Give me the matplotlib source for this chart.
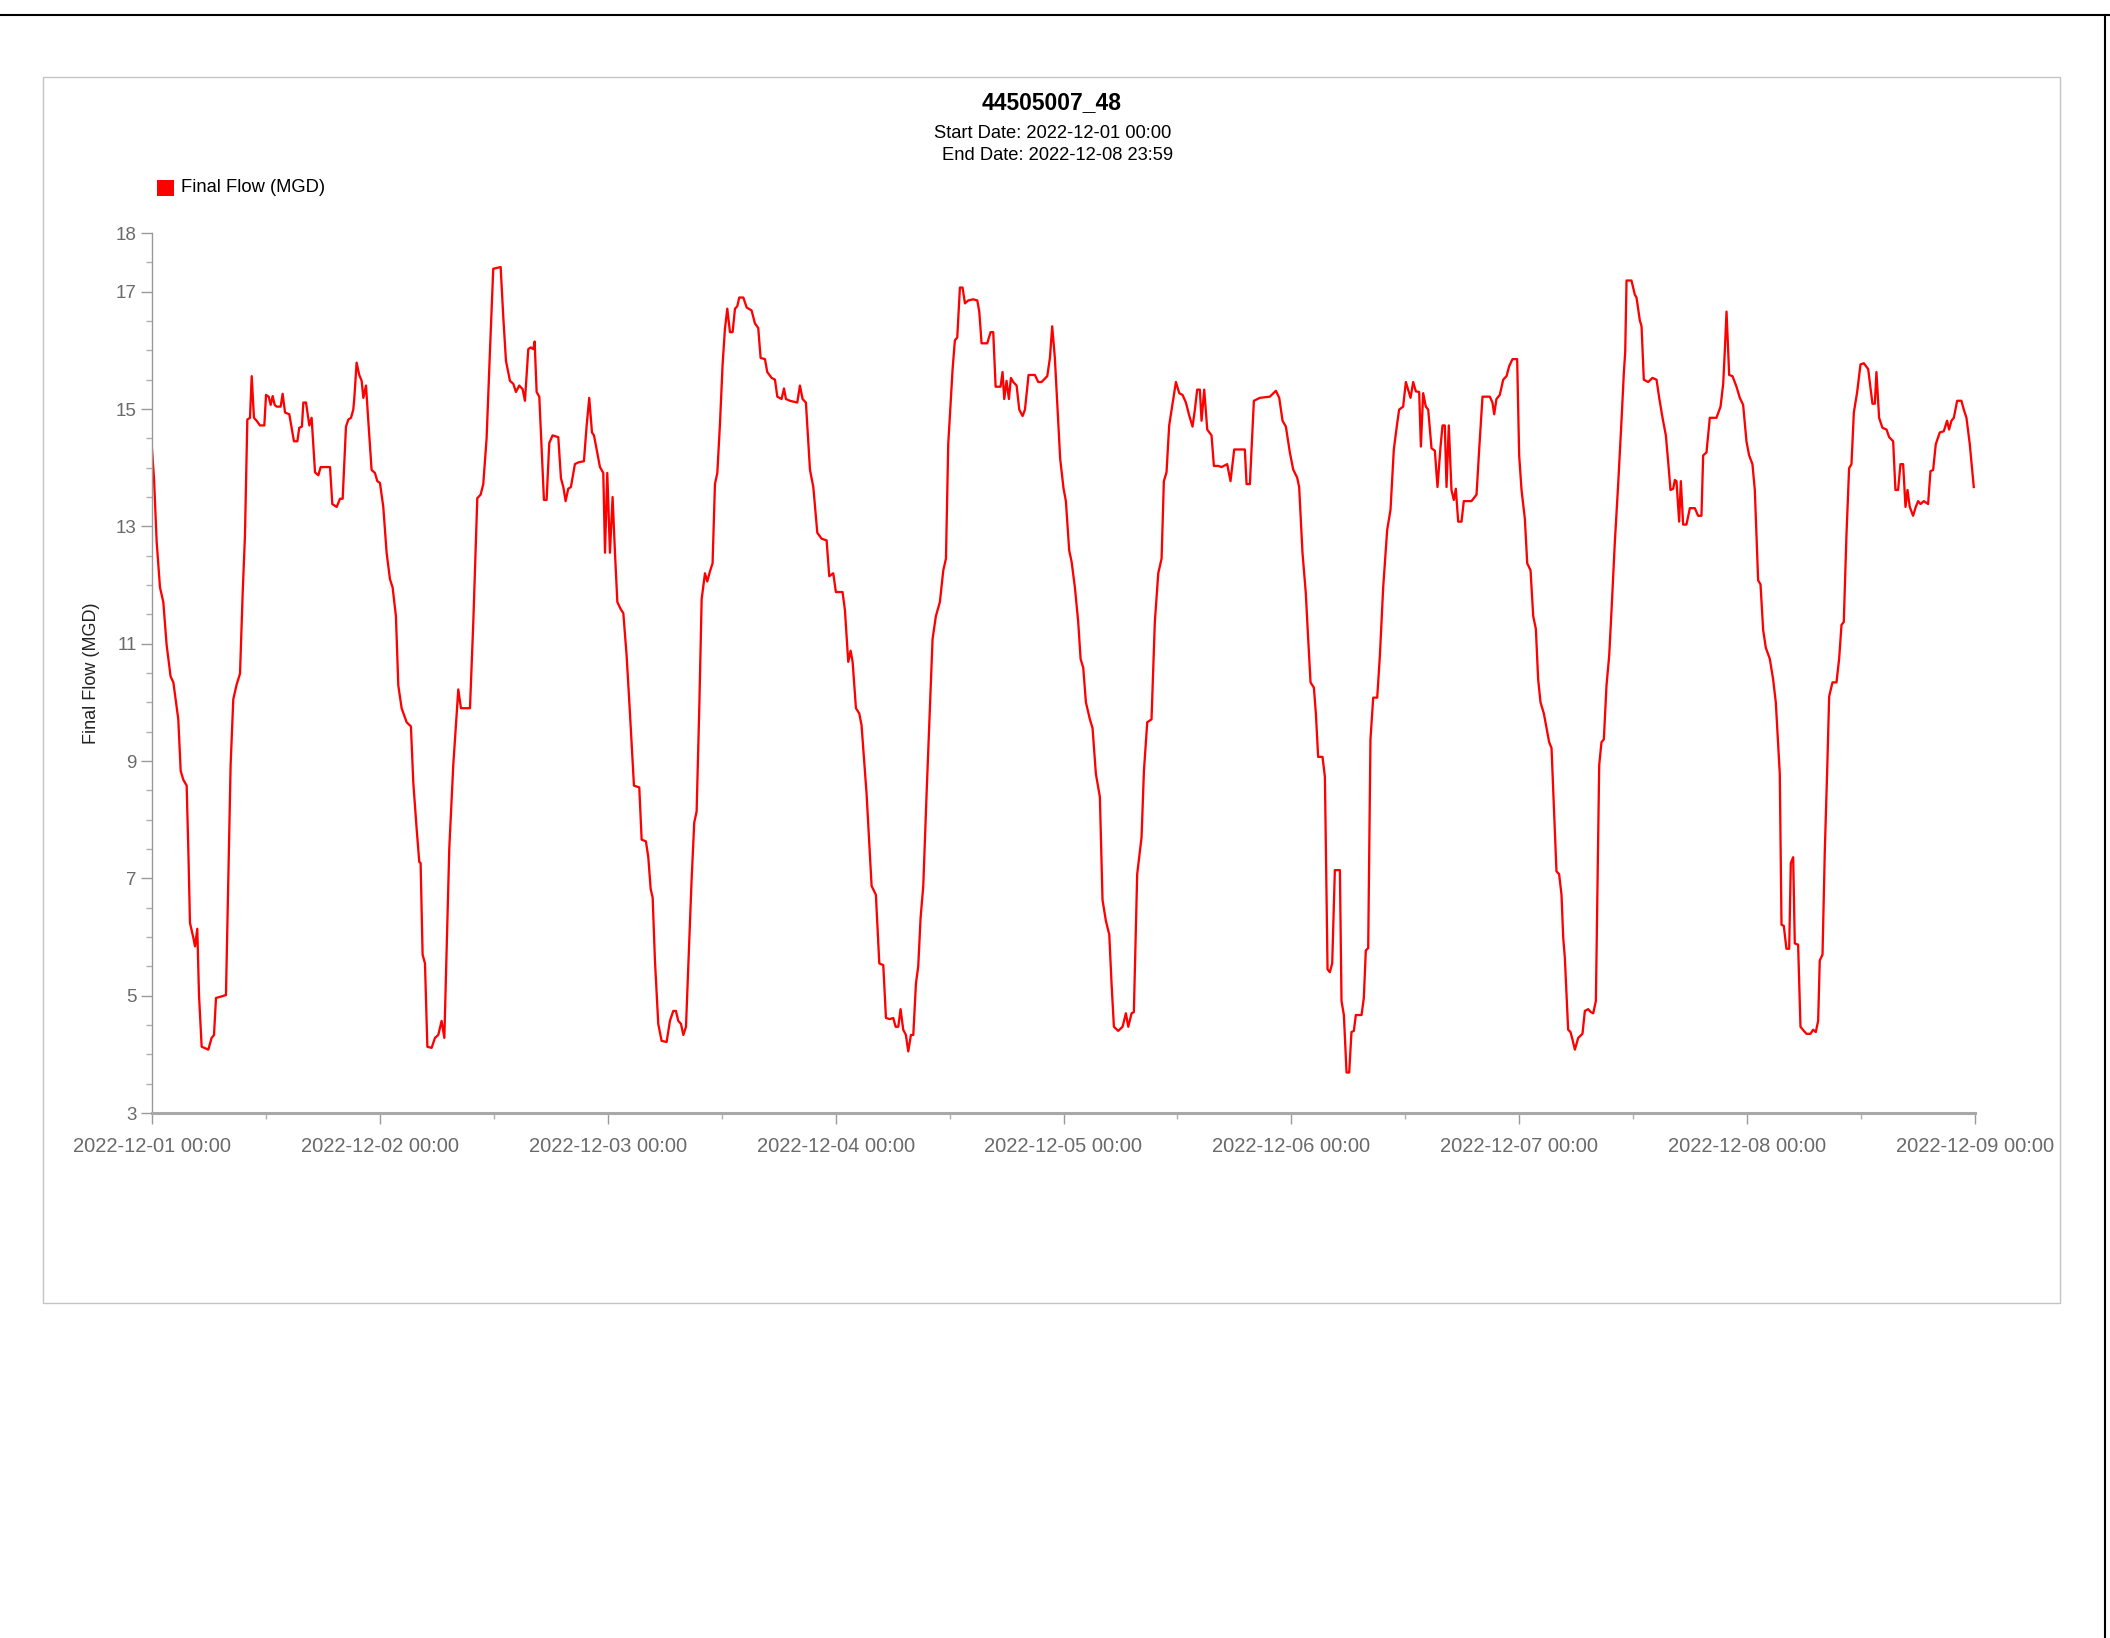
import numpy as np
import pandas as pd
import matplotlib
matplotlib.use("Agg")
import matplotlib.pyplot as plt
import matplotlib.dates as mdates
from matplotlib.lines import Line2D
from matplotlib.patches import Rectangle
from matplotlib.ticker import FixedLocator, MultipleLocator

plt.rcParams['font.family'] = ['Liberation Sans', 'DejaVu Sans']

TITLE = "44505007_48"
START_LABEL = "Start Date: 2022-12-01 00:00"
END_LABEL = "End Date: 2022-12-08 23:59"
SERIES_NAME = "Final Flow (MGD)"
START = pd.Timestamp("2022-12-01 00:00")
X_END = pd.Timestamp("2022-12-09 00:00")
Y_TICKS = [3, 5, 7, 9, 11, 13, 15, 17, 18]

# (hours since start, flow in MGD), one list per day
dec01 = [(0.00, 14.31), (0.21, 13.82), (0.49, 12.74), (0.84, 11.96), (1.19, 11.71), (1.54, 10.98),
         (1.96, 10.44), (2.25, 10.34), (2.77, 9.71), (3.02, 8.83), (3.30, 8.68), (3.65, 8.58),
         (3.83, 7.46), (4.00, 6.24), (4.35, 5.99), (4.53, 5.84), (4.77, 6.14), (4.95, 5.01),
         (5.23, 4.13), (5.93, 4.08), (6.28, 4.28), (6.53, 4.33), (6.74, 4.96), (7.79, 5.01),
         (8.04, 6.97), (8.28, 8.93), (8.56, 10.05), (8.91, 10.30), (9.27, 10.49), (9.55, 11.86),
         (9.79, 12.84), (10.04, 14.82), (10.32, 14.85), (10.50, 15.56), (10.74, 14.85), (11.02, 14.80),
         (11.37, 14.72), (11.83, 14.72), (12.01, 15.24), (12.29, 15.21), (12.50, 15.07), (12.71, 15.22),
         (12.92, 15.07), (13.13, 15.04), (13.55, 15.04), (13.76, 15.26), (14.01, 14.94), (14.46, 14.91),
         (14.95, 14.45), (15.31, 14.45), (15.51, 14.68), (15.79, 14.70), (15.94, 15.11), (16.22, 15.11),
         (16.57, 14.72), (16.81, 14.85), (17.17, 13.92), (17.52, 13.87), (17.76, 14.01), (18.75, 14.01),
         (18.99, 13.38), (19.45, 13.33), (19.80, 13.47), (20.08, 13.47), (20.43, 14.70), (20.68, 14.82),
         (20.96, 14.85), (21.20, 14.99), (21.31, 15.19), (21.55, 15.79), (21.83, 15.58), (22.08, 15.48),
         (22.26, 15.19), (22.54, 15.40), (22.78, 14.80), (23.13, 13.96), (23.48, 13.91), (23.73, 13.77)]

dec02 = [(24.01, 13.74), (24.36, 13.33), (24.71, 12.55), (25.06, 12.10), (25.34, 11.96), (25.69, 11.47),
         (25.94, 10.29), (26.29, 9.90), (26.82, 9.66), (27.27, 9.59), (27.52, 8.63), (27.87, 7.85),
         (28.15, 7.28), (28.29, 7.26), (28.50, 5.70), (28.75, 5.55), (29.00, 4.13), (29.45, 4.11),
         (29.80, 4.28), (30.15, 4.33), (30.50, 4.57), (30.79, 4.28), (31.31, 7.51), (31.73, 8.93),
         (32.26, 10.22), (32.54, 9.90), (33.49, 9.90), (33.84, 11.37), (34.26, 13.48), (34.61, 13.54),
         (34.89, 13.72), (35.24, 14.50), (35.59, 15.97), (35.94, 17.39), (36.72, 17.42), (37.00, 16.56),
         (37.28, 15.82), (37.70, 15.48), (38.05, 15.43), (38.33, 15.29), (38.68, 15.40), (39.03, 15.34),
         (39.28, 15.14), (39.63, 16.02), (39.88, 16.05), (40.16, 16.02), (40.30, 16.15), (40.51, 15.29),
         (40.79, 15.21), (41.28, 13.45), (41.56, 13.45), (41.84, 14.42), (42.19, 14.55), (42.79, 14.52),
         (43.07, 13.82), (43.32, 13.67), (43.56, 13.43), (43.84, 13.64), (44.12, 13.67), (44.54, 14.06),
         (44.90, 14.09), (45.49, 14.11), (45.77, 14.70), (46.05, 15.19), (46.34, 14.60), (46.55, 14.55),
         (46.83, 14.31)]

dec03 = [(47.18, 14.01), (47.53, 13.91), (47.71, 12.55), (47.95, 13.91), (48.23, 12.55), (48.51, 13.50),
         (48.76, 12.55), (49.01, 11.71), (49.36, 11.59), (49.64, 11.52), (49.99, 10.79), (50.34, 9.81),
         (50.76, 8.58), (51.32, 8.55), (51.57, 7.66), (52.02, 7.63), (52.27, 7.36), (52.52, 6.82),
         (52.73, 6.67), (52.97, 5.60), (53.32, 4.52), (53.67, 4.23), (54.20, 4.21), (54.55, 4.57),
         (54.90, 4.74), (55.18, 4.74), (55.43, 4.57), (55.71, 4.52), (55.96, 4.33), (56.24, 4.47),
         (56.48, 5.50), (56.83, 6.97), (57.11, 7.95), (57.36, 8.14), (57.64, 9.90), (57.89, 11.76),
         (58.24, 12.20), (58.48, 12.06), (58.76, 12.23), (59.04, 12.37), (59.29, 13.72), (59.54, 13.91),
         (59.82, 14.75), (60.10, 15.77), (60.34, 16.36), (60.59, 16.71), (60.87, 16.31), (61.15, 16.31),
         (61.40, 16.71), (61.64, 16.75), (61.85, 16.90), (62.28, 16.90), (62.63, 16.73), (63.15, 16.68),
         (63.50, 16.46), (63.85, 16.38), (64.10, 15.87), (64.56, 15.85), (64.80, 15.63), (65.26, 15.53),
         (65.61, 15.50), (65.86, 15.21), (66.31, 15.17), (66.56, 15.35), (66.77, 15.17), (67.19, 15.14),
         (67.96, 15.11), (68.24, 15.40), (68.52, 15.17), (68.87, 15.11), (69.30, 13.96), (69.65, 13.67),
         (70.07, 12.89), (70.52, 12.79), (71.05, 12.76)]

dec04 = [(71.33, 12.15), (71.75, 12.20), (72.03, 11.88), (72.73, 11.88), (72.98, 11.57), (73.33, 10.69),
         (73.58, 10.88), (73.79, 10.69), (74.14, 9.90), (74.49, 9.81), (74.73, 9.61), (75.26, 8.44),
         (75.79, 6.87), (76.24, 6.72), (76.60, 5.55), (77.02, 5.52), (77.30, 4.62), (77.72, 4.60),
         (78.07, 4.62), (78.32, 4.47), (78.60, 4.47), (78.84, 4.77), (79.12, 4.42), (79.40, 4.33),
         (79.65, 4.05), (79.93, 4.33), (80.18, 4.33), (80.46, 5.21), (80.70, 5.50), (80.95, 6.33),
         (81.23, 6.87), (81.58, 8.44), (81.93, 9.90), (82.21, 11.08), (82.56, 11.47), (82.98, 11.71),
         (83.34, 12.25), (83.62, 12.45), (83.86, 14.40), (84.11, 15.09), (84.32, 15.68), (84.56, 16.17),
         (84.81, 16.22), (85.09, 17.07), (85.37, 17.07), (85.62, 16.80), (85.97, 16.85), (86.49, 16.87),
         (86.92, 16.85), (87.13, 16.66), (87.37, 16.12), (87.97, 16.12), (88.32, 16.31), (88.60, 16.31),
         (88.85, 15.38), (89.37, 15.38), (89.58, 15.63), (89.76, 15.17), (90.00, 15.48), (90.25, 15.17),
         (90.46, 15.53), (90.71, 15.46), (91.06, 15.40), (91.34, 14.99), (91.69, 14.88), (91.94, 14.99),
         (92.32, 15.58), (92.99, 15.58), (93.34, 15.46), (93.69, 15.46), (94.29, 15.56), (94.57, 15.87),
         (94.81, 16.41), (95.09, 15.87), (95.38, 14.99)]

dec05 = [(95.65, 14.15), (96.00, 13.65), (96.25, 13.43), (96.60, 12.59), (96.85, 12.40), (97.20, 11.96),
         (97.55, 11.37), (97.80, 10.74), (98.08, 10.59), (98.36, 10.00), (98.78, 9.71), (99.06, 9.56),
         (99.41, 8.78), (99.83, 8.39), (100.11, 6.63), (100.46, 6.28), (100.82, 6.04), (101.06, 5.21),
         (101.31, 4.47), (101.76, 4.40), (102.22, 4.47), (102.57, 4.70), (102.82, 4.47), (103.17, 4.70),
         (103.41, 4.72), (103.76, 7.07), (104.22, 7.70), (104.47, 8.83), (104.82, 9.66), (105.27, 9.71),
         (105.62, 11.37), (105.98, 12.20), (106.33, 12.45), (106.57, 13.77), (106.85, 13.92), (107.13, 14.72),
         (107.48, 15.09), (107.84, 15.46), (108.19, 15.27), (108.54, 15.24), (108.89, 15.11), (109.24, 14.89),
         (109.59, 14.70), (109.84, 14.99), (110.08, 15.33), (110.36, 15.33), (110.54, 14.80), (110.82, 15.33),
         (111.14, 14.65), (111.59, 14.55), (111.84, 14.03), (112.29, 14.03), (112.64, 14.01), (113.24, 14.06),
         (113.59, 13.77), (113.98, 14.31), (115.10, 14.31), (115.28, 13.72), (115.63, 13.72), (116.05, 15.14),
         (116.68, 15.19), (117.73, 15.21), (118.37, 15.31), (118.72, 15.19), (119.07, 14.80), (119.42, 14.70)]

dec06 = [(119.84, 14.26), (120.19, 13.97), (120.61, 13.83), (120.82, 13.67), (121.17, 12.55), (121.52, 11.86),
         (121.77, 11.08), (122.02, 10.34), (122.37, 10.25), (122.58, 9.81), (122.82, 9.07), (123.28, 9.07),
         (123.53, 8.73), (123.70, 6.67), (123.81, 5.45), (124.05, 5.40), (124.30, 5.55), (124.58, 7.14),
         (125.11, 7.14), (125.28, 4.91), (125.53, 4.67), (125.81, 3.69), (126.09, 3.69), (126.33, 4.38),
         (126.58, 4.40), (126.79, 4.67), (127.39, 4.67), (127.63, 4.96), (127.84, 5.77), (128.09, 5.81),
         (128.33, 9.37), (128.62, 10.08), (129.04, 10.08), (129.32, 10.79), (129.67, 11.96), (130.09, 12.94),
         (130.44, 13.28), (130.79, 14.31), (131.14, 14.75), (131.35, 14.99), (131.77, 15.04), (132.06, 15.46),
         (132.30, 15.33), (132.55, 15.19), (132.83, 15.46), (133.11, 15.30), (133.46, 15.29), (133.64, 14.36),
         (133.88, 15.27), (134.16, 15.04), (134.41, 14.99), (134.76, 14.33), (135.11, 14.29), (135.39, 13.67),
         (135.71, 14.36), (135.92, 14.72), (136.16, 14.72), (136.34, 13.67), (136.58, 14.72), (136.86, 13.62),
         (137.11, 13.45), (137.32, 13.64), (137.57, 13.08), (137.92, 13.08), (138.16, 13.43), (138.97, 13.43),
         (139.50, 13.54), (139.78, 14.31), (140.13, 15.21), (140.90, 15.21), (141.18, 15.11), (141.36, 14.91),
         (141.60, 15.17), (141.95, 15.24), (142.31, 15.50), (142.66, 15.56), (142.94, 15.73)]

dec07 = [(143.29, 15.85), (143.78, 15.85), (143.99, 14.21), (144.24, 13.62), (144.59, 13.13), (144.84, 12.37),
         (145.19, 12.25), (145.47, 11.47), (145.75, 11.25), (145.99, 10.39), (146.24, 10.00), (146.59, 9.81),
         (146.87, 9.56), (147.15, 9.32), (147.40, 9.22), (147.64, 8.24), (147.92, 7.12), (148.20, 7.07),
         (148.45, 6.72), (148.63, 5.99), (148.80, 5.65), (149.15, 4.42), (149.40, 4.38), (149.61, 4.25),
         (149.86, 4.08), (150.21, 4.28), (150.66, 4.35), (150.91, 4.74), (151.26, 4.77), (151.54, 4.72),
         (151.79, 4.70), (152.07, 4.91), (152.21, 6.48), (152.42, 8.93), (152.66, 9.32), (152.91, 9.37),
         (153.19, 10.29), (153.47, 10.79), (153.72, 11.57), (154.07, 12.74), (154.42, 13.72), (154.77, 14.80),
         (155.02, 15.63), (155.16, 15.97), (155.30, 17.19), (155.82, 17.19), (156.17, 16.95), (156.35, 16.90),
         (156.70, 16.51), (156.88, 16.41), (157.12, 15.50), (157.58, 15.46), (158.03, 15.53), (158.46, 15.50),
         (158.74, 15.19), (159.09, 14.85), (159.44, 14.55), (159.68, 14.11), (159.93, 13.62), (160.21, 13.64),
         (160.39, 13.79), (160.56, 13.77), (160.84, 13.08), (161.02, 13.77), (161.26, 13.03), (161.61, 13.03),
         (161.97, 13.31), (162.49, 13.31), (162.84, 13.18), (163.19, 13.18), (163.37, 14.21), (163.72, 14.26),
         (164.07, 14.85), (164.77, 14.85), (165.20, 15.04), (165.48, 15.43), (165.65, 15.99), (165.83, 16.66),
         (166.11, 15.58), (166.46, 15.56), (166.88, 15.38)]

dec08 = [(167.23, 15.19), (167.58, 15.07), (167.93, 14.45), (168.21, 14.21), (168.56, 14.06), (168.81, 13.62),
         (169.16, 12.08), (169.41, 12.01), (169.69, 11.23), (169.97, 10.93), (170.39, 10.74), (170.74, 10.39),
         (171.02, 10.00), (171.44, 8.78), (171.62, 6.21), (171.86, 6.19), (172.14, 5.80), (172.43, 5.80),
         (172.60, 7.26), (172.85, 7.36), (173.02, 5.89), (173.37, 5.87), (173.62, 4.47), (173.97, 4.40),
         (174.25, 4.35), (174.67, 4.35), (174.95, 4.42), (175.23, 4.38), (175.48, 4.57), (175.65, 5.60),
         (175.94, 5.70), (176.18, 7.46), (176.43, 8.83), (176.64, 10.10), (176.99, 10.34), (177.41, 10.34),
         (177.69, 10.74), (177.94, 11.32), (178.18, 11.37), (178.46, 12.84), (178.74, 13.99), (178.99, 14.06),
         (179.24, 14.94), (179.59, 15.29), (179.94, 15.76), (180.29, 15.78), (180.75, 15.68), (181.20, 15.09),
         (181.45, 15.09), (181.62, 15.63), (181.90, 14.85), (182.25, 14.68), (182.68, 14.65), (182.96, 14.52),
         (183.38, 14.45), (183.62, 13.62), (183.90, 13.62), (184.15, 14.06), (184.43, 14.06), (184.68, 13.33),
         (184.89, 13.62), (185.13, 13.33), (185.48, 13.18), (185.76, 13.33), (186.01, 13.43), (186.26, 13.38),
         (186.61, 13.43), (187.06, 13.38), (187.31, 13.94), (187.59, 13.96), (187.87, 14.40), (188.29, 14.60),
         (188.71, 14.62), (189.06, 14.80), (189.27, 14.65), (189.52, 14.80), (189.77, 14.85), (190.12, 15.14),
         (190.57, 15.14), (190.82, 14.99), (191.10, 14.85), (191.45, 14.40), (191.87, 13.67)]

readings = dec01 + dec02 + dec03 + dec04 + dec05 + dec06 + dec07 + dec08
hours = np.array([r[0] for r in readings])
flow = np.array([r[1] for r in readings])
times = START + pd.to_timedelta(hours, unit="h")

W, H = 2110, 1638
fig = plt.figure(figsize=(W / 100, H / 100), dpi=100)
fig.patch.set_facecolor("white")


def fx(px):
    return px / W


def fy(py):
    return 1 - py / H


# page frame and chart panel
fig.add_artist(Line2D([0, 1], [fy(15), fy(15)], color="black", lw=1.5))
fig.add_artist(Line2D([fx(2105), fx(2105)], [fy(15), 0], color="black", lw=1.5))
fig.add_artist(Rectangle((fx(43), fy(1303)), fx(2060) - fx(43), fy(77) - fy(1303),
                         fill=False, edgecolor="#c4c4c4", lw=1.0))

ax = fig.add_axes([fx(152), fy(1113), fx(1975) - fx(152), fy(233) - fy(1113)])
ax.plot(times, flow, color="#ff0000", lw=1.65, solid_joinstyle="round")

ax.set_xlim(START, X_END)
ax.set_ylim(3, 18)

ax.xaxis.set_major_locator(mdates.DayLocator())
ax.xaxis.set_minor_locator(mdates.HourLocator(byhour=[12]))
ax.xaxis.set_major_formatter(mdates.DateFormatter("%Y-%m-%d %H:%M"))
ax.yaxis.set_major_locator(FixedLocator(Y_TICKS))
ax.yaxis.set_minor_locator(MultipleLocator(0.5))

for side in ("top", "right"):
    ax.spines[side].set_visible(False)
ax.spines["left"].set_color("#9a9a9a")
ax.spines["left"].set_linewidth(1.0)
ax.spines["bottom"].set_color("#a8a8a8")
ax.spines["bottom"].set_linewidth(2.2)

ax.tick_params(axis="y", which="major", length=8, width=1, color="#9a9a9a",
               labelcolor="#6a6a6a", labelsize=13.5, pad=3)
ax.tick_params(axis="y", which="minor", length=4, width=1, color="#b0b0b0")
ax.tick_params(axis="x", which="major", length=8, width=1, color="#9a9a9a",
               labelcolor="#6a6a6a", labelsize=14.5, pad=9)
ax.tick_params(axis="x", which="minor", length=4, width=1, color="#b0b0b0")

# titles
fig.text(fx(1052), fy(103), TITLE, ha="center", va="center", fontsize=16.5,
         fontweight="bold", color="black")
fig.text(fx(1052.5), fy(134), START_LABEL, ha="center", va="center", fontsize=13.2, color="black")
fig.text(fx(1057.5), fy(156), END_LABEL, ha="center", va="center", fontsize=13.2, color="black")

# legend
fig.add_artist(Rectangle((fx(157), fy(196)), fx(174) - fx(157), fy(180) - fy(196),
                         facecolor="#ff0000", edgecolor="none"))
fig.text(fx(181), fy(188), SERIES_NAME, ha="left", va="center", fontsize=13.2, color="black")

# y-axis title
fig.text(fx(92), fy(673), SERIES_NAME, ha="center", va="center", rotation=90,
         fontsize=13.0, color="#222222")

fig.savefig("out.png", dpi=100, facecolor="white")
